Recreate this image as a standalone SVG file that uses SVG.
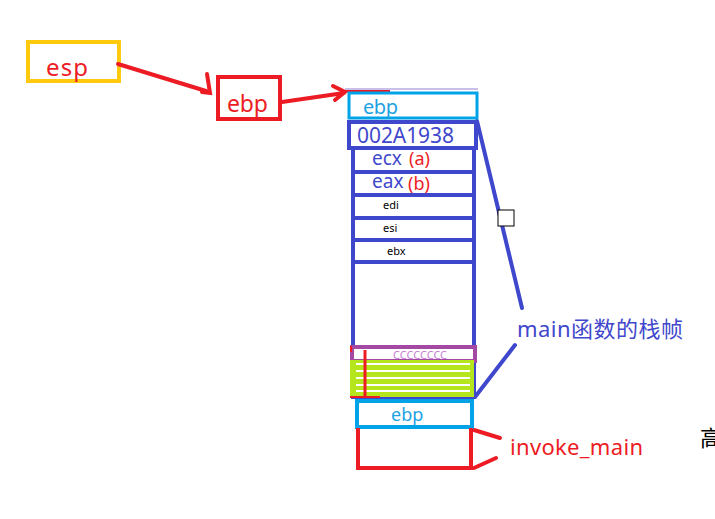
<svg xmlns="http://www.w3.org/2000/svg" width="715" height="519" viewBox="0 0 715 519">
<style>
text{font-family:"Noto Sans","Noto Sans CJK SC",sans-serif}
.r{fill:none;stroke:#ED1C24;stroke-width:4}
.b{fill:none;stroke:#3F48CC;stroke-width:4}
.c{fill:none;stroke:#00A2E8;stroke-width:4}
.tr{fill:#ED1C24;font-size:20px}
.tb{fill:#3F48CC;font-size:19px}
.tc{fill:#1EA2E4;font-size:18px}
.tk{fill:#000;font-size:11px}
</style>
<rect width="715" height="519" fill="#fff"/>
<g id="esp"><rect x="28" y="42" width="91" height="39" fill="none" stroke="#FFC90E" stroke-width="4"/><text class="tr" x="46" y="76" style="font-size:24px" textLength="42">esp</text></g>
<g id="ebp-reg"><rect x="218" y="77" width="62" height="42" class="r"/><text class="tr" x="227" y="112" style="font-size:23px" textLength="41">ebp</text></g>
<g id="connectors" stroke-linecap="round" fill="none">
<path d="M118 64 L206 91 M207 74 L210 93 L202 92" class="r"/>
<path d="M282 102 L344 93 M333 86 L345 92 L335 100" class="r"/>
<path d="M477 121 L522 308" class="b"/>
<path d="M475 397 L515 345" class="b"/>
<path d="M474 430 L500 438 M474 468 L496 458" class="r"/>
</g>
<g id="frame-top"><line x1="345" y1="89" x2="478" y2="89" stroke="#C8C0E8" stroke-width="2"/><line x1="345" y1="91" x2="390" y2="91" stroke="#ED1C24" stroke-width="2"/>
<rect x="349" y="93" width="128" height="25" fill="#fff" stroke="#00A2E8" stroke-width="3"/><text class="tc" x="363" y="114" style="font-size:20px" textLength="35">ebp</text></g>
<g id="ret"><rect x="349" y="122" width="127" height="26" class="b"/><text class="tb" x="357" y="143" style="font-size:21px" textLength="97">002A1938</text></g>
<g id="ecx"><rect x="353" y="148" width="121" height="24" class="b"/><text class="tb" x="372" y="165">ecx</text><text class="tr" x="409" y="165" style="font-size:18px">(a)</text></g>
<g id="eax"><rect x="353" y="172" width="121" height="23" class="b"/><text class="tb" x="372" y="188">eax</text><text class="tr" x="408" y="190" style="font-size:18px">(b)</text></g>
<g id="edi"><rect x="353" y="195" width="121" height="23" class="b"/><text class="tk" x="383" y="209">edi</text></g>
<g id="esi"><rect x="353" y="218" width="121" height="22" class="b"/><text class="tk" x="383" y="232">esi</text></g>
<g id="ebx"><rect x="353" y="240" width="121" height="22" class="b"/><text class="tk" x="387" y="255">ebx</text></g>
<g id="locals"><rect x="353" y="262" width="121" height="135" class="b"/>
<rect x="352" y="347" width="123" height="14" fill="#fff" stroke="#A349A4" stroke-width="4"/>
<line x1="351" y1="346" x2="351" y2="352" stroke="#ED1C24" stroke-width="2"/>
<text x="393" y="359" fill="#C77DD6" style="font-size:11px">CCCCCCCC</text>
<rect x="350" y="360" width="124" height="37" fill="#B5E61D"/>
<g stroke="#fff" stroke-width="2"><line x1="356" y1="364" x2="470" y2="364"/><line x1="356" y1="371" x2="470" y2="371"/><line x1="356" y1="378" x2="470" y2="378"/><line x1="356" y1="385" x2="470" y2="385"/><line x1="356" y1="391" x2="470" y2="391"/></g>
<line x1="365" y1="350" x2="365" y2="396" stroke="#ED1C24" stroke-width="3"/>
<line x1="350" y1="397" x2="380" y2="397" stroke="#ED1C24" stroke-width="2"/></g>
<text x="517" y="337" fill="#3F48CC" style="font-size:22px" textLength="166" id="label-main">main函数的栈帧</text>
<rect x="498" y="210" width="16" height="16" fill="#fff" stroke="#000" stroke-width="1"/>
<g id="ebp-bottom"><rect x="357" y="401" width="115" height="26" class="c"/><text class="tc" x="391" y="421">ebp</text></g>
<g id="invoke"><path d="M358 428 L358 468 L471 468 L471 428" class="r"/><text class="tr" x="510" y="455" style="font-size:22px" textLength="133">invoke_main</text></g>
<text x="700" y="446" fill="#000" style="font-size:22px;font-family:'Noto Sans CJK SC',sans-serif">高</text>
</svg>
